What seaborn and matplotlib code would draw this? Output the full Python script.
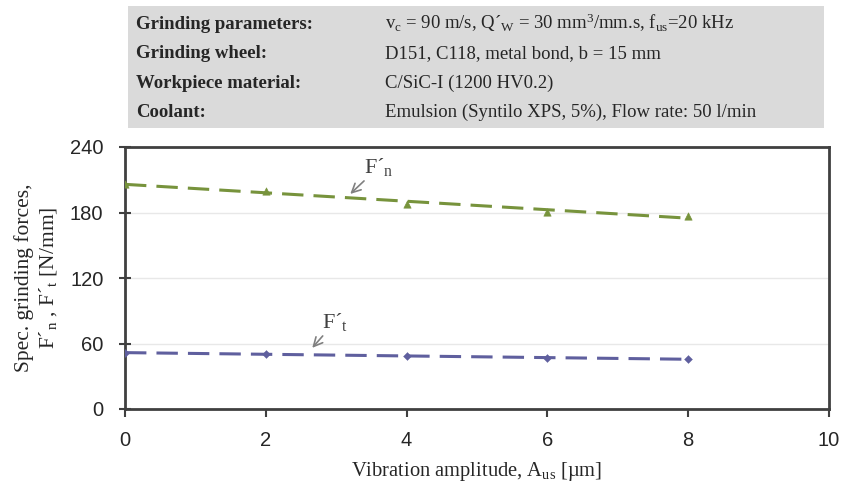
import matplotlib
matplotlib.use("Agg")
import matplotlib.pyplot as plt
import seaborn as sns
import pandas as pd
from matplotlib.patches import Rectangle

amplitude = [0, 2, 4, 6, 8]
force_n = [206, 200, 188, 180.5, 177]
force_t = [51.5, 50.5, 48.5, 46.7, 45.8]

x_ticks = [0, 2, 4, 6, 8, 10]
y_ticks = [0, 60, 120, 180, 240]

header_labels = ["Grinding parameters:", "Grinding wheel:", "Workpiece material:", "Coolant:"]
header_values = [
    "v$_{c}$ = 90 m/s, Q´$_{W}$ = 30 mm$^{3}$/mm.s, f$_{us}$=20 kHz",
    "D151, C118, metal bond, b = 15 mm",
    "C/SiC-I (1200 HV0.2)",
    "Emulsion (Syntilo XPS, 5%), Flow rate: 50 l/min",
]

sns.set_theme(style="white")
plt.rcParams["font.family"] = ["Liberation Serif", "DejaVu Serif"]
plt.rcParams["mathtext.default"] = "regular"

df = pd.DataFrame({"A": amplitude, "Fn": force_n, "Ft": force_t})

green = "#77933C"
purple = "#5F5F9E"

fig = plt.figure(figsize=(8.56, 4.84), dpi=100)
ax = fig.add_axes([125/856, 1-409/484, (829-125)/856, (409-147)/484])

dash = (0, (7, 3.3))
sns.regplot(data=df, x="A", y="Fn", ax=ax, scatter=False, ci=None,
            line_kws=dict(color=green, lw=2.2, ls=dash))
sns.regplot(data=df, x="A", y="Ft", ax=ax, scatter=False, ci=None,
            line_kws=dict(color=purple, lw=2.2, ls=dash))
sns.scatterplot(data=df, x="A", y="Fn", ax=ax, marker="^", color=green, s=28, edgecolor=green, zorder=5)
sns.scatterplot(data=df, x="A", y="Ft", ax=ax, marker="D", color=purple, s=16, edgecolor=purple, zorder=5)

ax.set_xlim(0, 10)
ax.set_ylim(0, 240)
ax.set_xticks(x_ticks)
ax.set_yticks(y_ticks)
ax.set_xticklabels([str(v) for v in x_ticks], family="Liberation Sans", fontsize=14.5)
ax.set_yticklabels([str(v) for v in y_ticks], family="Liberation Sans", fontsize=14.5)
ax.yaxis.grid(True, color="#E8E8E8", lw=1)
ax.set_axisbelow(True)
for s in ax.spines.values():
    s.set_color("#404040")
    s.set_linewidth(2)
ax.tick_params(axis="x", direction="out", length=6, width=1.5, color="#404040", pad=10)
ax.tick_params(axis="y", direction="inout", length=9, width=1.5, color="#404040", pad=11)
ax.tick_params(bottom=True, left=True)

ax.set_xlabel("Vibration amplitude, A$_{us}$ [µm]", fontsize=14.8, labelpad=7)
ax.set_ylabel("Spec. grinding forces,\nF´$_{n}$ , F´$_{t}$ [N/mm]", fontsize=15.5, labelpad=8, linespacing=1.15)

ax.annotate("F´$_{n}$", xy=(3.2, 197), xytext=(3.4, 216.5), fontsize=16, color="#404040",
            arrowprops=dict(arrowstyle="->", color="#808080", lw=1.2, shrinkA=0, shrinkB=0))
ax.annotate("F´$_{t}$", xy=(2.66, 56), xytext=(2.8, 74.5), fontsize=16, color="#404040",
            arrowprops=dict(arrowstyle="->", color="#808080", lw=1.2, shrinkA=0, shrinkB=0))

# header box
fig.patches.append(Rectangle((128/856, 1-128/484), (824-128)/856, (128-6)/484,
                             transform=fig.transFigure, facecolor="#DADADA", edgecolor="none", zorder=0))
rows_y = [29, 58, 88, 117]
for lab, val, yy in zip(header_labels, header_values, rows_y):
    fig.text(136/856, 1-yy/484, lab, fontsize=13.5, fontweight="bold", va="baseline", ha="left")
    fig.text(385/856, 1-yy/484, val, fontsize=13.5, va="baseline", ha="left")

fig.savefig("out.png", dpi=100)
